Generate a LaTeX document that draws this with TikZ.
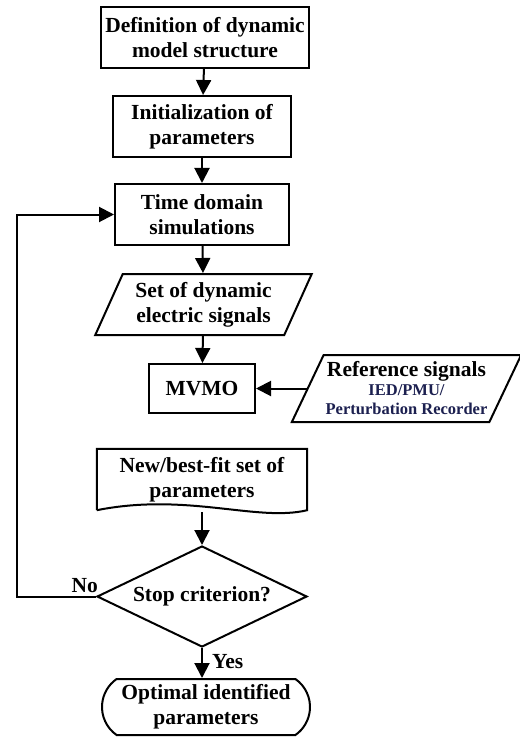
\documentclass[tikz,border=0pt]{standalone}
\usepackage{fontspec}
\setmainfont{Liberation Serif}
\usetikzlibrary{positioning}
\usetikzlibrary {arrows.meta}
\usetikzlibrary{shapes.geometric,shapes.misc}
\definecolor{refnavy}{RGB}{28,32,80}
\newcommand{\flowfont}{\bfseries\fontsize{21.5}{25}\selectfont}
\newcommand{\subfont}{\fontsize{16.5}{19}\selectfont\color{refnavy}}
\tikzset{flowbox/.style={rectangle,draw=black,fill=white,line width=2pt,
inner sep=2pt,minimum height=61pt,align=center,font=\flowfont}}
\tikzset{flowio/.style={trapezium,trapezium left angle=64,trapezium right angle=116,
trapezium stretches=true,draw=black,fill=white,line width=2pt,
inner sep=2pt,minimum height=61pt,align=center,font=\flowfont}}
\tikzset{flowdec/.style={diamond,aspect=2,draw=black,fill=white,line width=2pt,
inner sep=0pt,minimum width=210pt,minimum height=101pt,font=\flowfont}}
\tikzset{flowend/.style={rounded rectangle,rounded rectangle arc length=110,draw=black,
fill=white,line width=2pt,inner sep=2pt,minimum width=212pt,minimum height=56pt,
align=center,font=\flowfont}}
\tikzset{flowlabel/.style={inner sep=0pt,font=\flowfont}}
\tikzset{flowarrow/.style={line width=2pt,-{Triangle[length=15pt,width=15pt]}}}

\begin{document}
\begin{tikzpicture}[x=1pt,y=-1pt]
    \useasboundingbox (0,0) rectangle (519,738);

    \node[flowbox, minimum width=208pt] (defn) at (205, 37.5) {Definition of dynamic\\model structure};
    \node[flowbox, minimum width=178pt] (init) at (202, 126.5) {Initialization of\\parameters};
    \node[flowbox, minimum width=174pt] (tsim) at (202, 214.5) {Time domain\\simulations};
    \node[flowio, minimum width=217pt] (sigs) at (203.5, 304.5) {Set of dynamic\\electric signals};
    \node[flowbox, minimum width=106pt, minimum height=49pt] (mvmo) at (202, 388.5) {MVMO};
    \node[flowio, minimum width=223pt, minimum height=67pt, trapezium left angle=61,
          trapezium right angle=119, font={\bfseries\fontsize{21.5}{19}\selectfont}] (refs) at (406.5, 388.5)
          {Reference signals\\{\subfont IED/PMU/}\\{\subfont Perturbation Recorder}};
    \node[rectangle, minimum width=210pt, minimum height=61pt, inner sep=2pt, align=center,
          font=\flowfont] (best) at (202, 479.5) {New/best-fit set of\\parameters};
    \node[flowdec] (stop) at (202, 596.5) {Stop criterion?};
    \node[flowend] (optm) at (206, 707) {Optimal identified\\parameters};

    % document shape with wavy bottom
    \draw[line width=2pt] (best.south west) -- (best.north west) -- (best.north east) -- (best.south east)
        .. controls ([xshift=-50pt,yshift=-12pt]best.south east) and ([xshift=90pt,yshift=18pt]best.south west)
        .. (best.south west);

    \draw[flowarrow] (defn) -- (init);
    \draw[flowarrow] (init) -- (tsim);
    \draw[flowarrow] (tsim) -- (sigs);
    \draw[flowarrow] (sigs) -- (mvmo);
    \draw[flowarrow] (refs.left side) -- (mvmo.east);
    \draw[flowarrow] ([yshift=-2pt]best.south) -- (stop.north);
    \draw[flowarrow] (stop.south) -- (stop.south |- optm.north);

    \coordinate (loop) at (17, 596);
    \draw[flowarrow] (stop.west) -- (stop.west -| loop) |- (tsim.west);

    \node[flowlabel, anchor=south east] (nolbl) at ([xshift=2pt,yshift=4pt]stop.west) {No};
    \node[flowlabel, anchor=west] (yeslbl) at ([xshift=10pt,yshift=-14pt]stop.south) {Yes};

\end{tikzpicture}
\end{document}
